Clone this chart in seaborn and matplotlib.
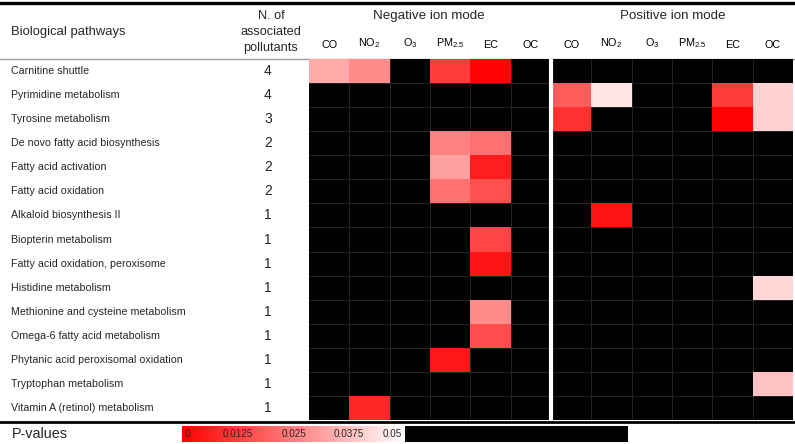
import numpy as np
import pandas as pd
import matplotlib
matplotlib.use('Agg')
import matplotlib.pyplot as plt
import seaborn as sns
from matplotlib.colors import ListedColormap, Normalize
from matplotlib.lines import Line2D
from matplotlib.transforms import blended_transform_factory
import matplotlib.cm as cm

# Data (None = not significant)
pathways = [
    'Carnitine shuttle', 'Pyrimidine metabolism', 'Tyrosine metabolism',
    'De novo fatty acid biosynthesis', 'Fatty acid activation', 'Fatty acid oxidation',
    'Alkaloid biosynthesis II', 'Biopterin metabolism', 'Fatty acid oxidation, peroxisome',
    'Histidine metabolism', 'Methionine and cysteine metabolism', 'Omega-6 fatty acid metabolism',
    'Phytanic acid peroxisomal oxidation', 'Tryptophan metabolism', 'Vitamin A (retinol) metabolism',
]
n_associated = [4, 4, 3, 2, 2, 2, 1, 1, 1, 1, 1, 1, 1, 1, 1]
pollutants = ['CO', 'NO$_2$', 'O$_3$', 'PM$_{2.5}$', 'EC', 'OC']

#               CO     NO2    O3    PM2.5  EC     OC
neg_pvalues = [
    [0.033, 0.027, None, 0.012, 0.001, None],
    [None,  None,  None, None,  None,  None],
    [None,  None,  None, None,  None,  None],
    [None,  None,  None, 0.025, 0.022, None],
    [None,  None,  None, 0.031, 0.006, None],
    [None,  None,  None, 0.022, 0.016, None],
    [None,  None,  None, None,  None,  None],
    [None,  None,  None, None,  0.014, None],
    [None,  None,  None, None,  0.004, None],
    [None,  None,  None, None,  None,  None],
    [None,  None,  None, None,  0.027, None],
    [None,  None,  None, None,  0.015, None],
    [None,  None,  None, 0.005, None,  None],
    [None,  None,  None, None,  None,  None],
    [None,  0.008, None, None,  None,  None],
]
pos_pvalues = [
    [None,  None,  None, None, None,  None],
    [0.018, 0.045, None, None, 0.012, 0.041],
    [0.010, None,  None, None, 0.001, 0.041],
    [None,  None,  None, None, None,  None],
    [None,  None,  None, None, None,  None],
    [None,  None,  None, None, None,  None],
    [None,  0.004, None, None, None,  None],
    [None,  None,  None, None, None,  None],
    [None,  None,  None, None, None,  None],
    [None,  None,  None, None, None,  0.042],
    [None,  None,  None, None, None,  None],
    [None,  None,  None, None, None,  None],
    [None,  None,  None, None, None,  None],
    [None,  None,  None, None, None,  0.038],
    [None,  None,  None, None, None,  None],
]
cbar_ticks = [0, 0.0125, 0.025, 0.0375, 0.05]
cbar_labels = ['0', '0.0125', '0.025', '0.0375', '0.05']

sns.set_theme(style='white')
plt.rcParams['font.family'] = ['Liberation Sans', 'DejaVu Sans']
plt.rcParams['mathtext.default'] = 'regular'

# red -> white up to p = 0.05, black above
reds = np.linspace([1, 0, 0], [1, 1, 1], 128)
cmap = ListedColormap(np.vstack([reds, np.zeros((128, 3))]))
norm = Normalize(0, 0.1)

data = pd.DataFrame([n + p for n, p in zip(neg_pvalues, pos_pvalues)],
                    index=pathways, dtype=float)
mask = data.isna()

W, H = 795, 444
fig = plt.figure(figsize=(W / 100, H / 100), dpi=100)
ax = fig.add_axes([309 / W, (H - 420) / H, 484 / W, 361 / H])
ax.set_facecolor('black')

sns.heatmap(data, ax=ax, cmap=cmap, vmin=0, vmax=0.1, mask=mask, cbar=False,
            xticklabels=pollutants * 2, yticklabels=False)

# grid lines only visible on the black (non-significant) cells
for i in range(1, len(pathways)):
    ax.axhline(i, color='#2a2a2a', lw=0.6, zorder=0.5)
for j in range(1, 12):
    ax.axvline(j, color='#2a2a2a', lw=0.6, zorder=0.5)
ax.axvline(6, color='white', lw=3, zorder=3)

ax.xaxis.tick_top()
ax.tick_params(axis='x', length=0, pad=6.5, labelsize=7.8, labelcolor='black')
plt.setp(ax.get_xticklabels(), rotation=0)

# header
fig.text(429 / W, 1 - 16 / H, 'Negative ion mode', ha='center', va='center', fontsize=9.6)
fig.text(673 / W, 1 - 16 / H, 'Positive ion mode', ha='center', va='center', fontsize=9.6)
fig.text(11 / W, 1 - 32 / H, 'Biological pathways', ha='left', va='center', fontsize=9.4)
fig.text(271 / W, 1 - 32 / H, 'N. of\nassociated\npollutants', ha='center', va='center',
         fontsize=9.2, linespacing=1.42)

trans = blended_transform_factory(fig.transFigure, ax.transData)
for i, (name, n) in enumerate(zip(pathways, n_associated)):
    ax.text(11 / W, i + 0.5, name, transform=trans, ha='left', va='center', fontsize=7.7)
    ax.text(268 / W, i + 0.5, str(n), transform=trans, ha='center', va='center', fontsize=10)

# table rules
fig.add_artist(Line2D([0, 1], [1 - 3 / H] * 2, color='black', lw=2.4))
fig.add_artist(Line2D([0, 1], [1 - 59 / H] * 2, color='#999999', lw=1.0, zorder=0))
fig.add_artist(Line2D([0, 1], [1 - 422 / H] * 2, color='black', lw=2.0))

# colour legend
fig.text(12 / W, 1 - 434 / H, 'P-values', ha='left', va='center', fontsize=10.4)
cax = fig.add_axes([182 / W, 2 / H, 446 / W, 16 / H])
cb = fig.colorbar(cm.ScalarMappable(norm=norm, cmap=cmap), cax=cax, orientation='horizontal')
cb.set_ticks([])
cb.outline.set_visible(False)
ctrans = blended_transform_factory(cax.transData, cax.transAxes)
for k, (t, lab) in enumerate(zip(cbar_ticks, cbar_labels)):
    ha = 'left' if k == 0 else ('right' if k == len(cbar_ticks) - 1 else 'center')
    off = 0.0006 if k == 0 else (-0.0008 if ha == 'right' else 0)
    cax.text(t + off, 0.5, lab, transform=ctrans, ha=ha, va='center', fontsize=7.1)

fig.savefig('out.png', dpi=100)
